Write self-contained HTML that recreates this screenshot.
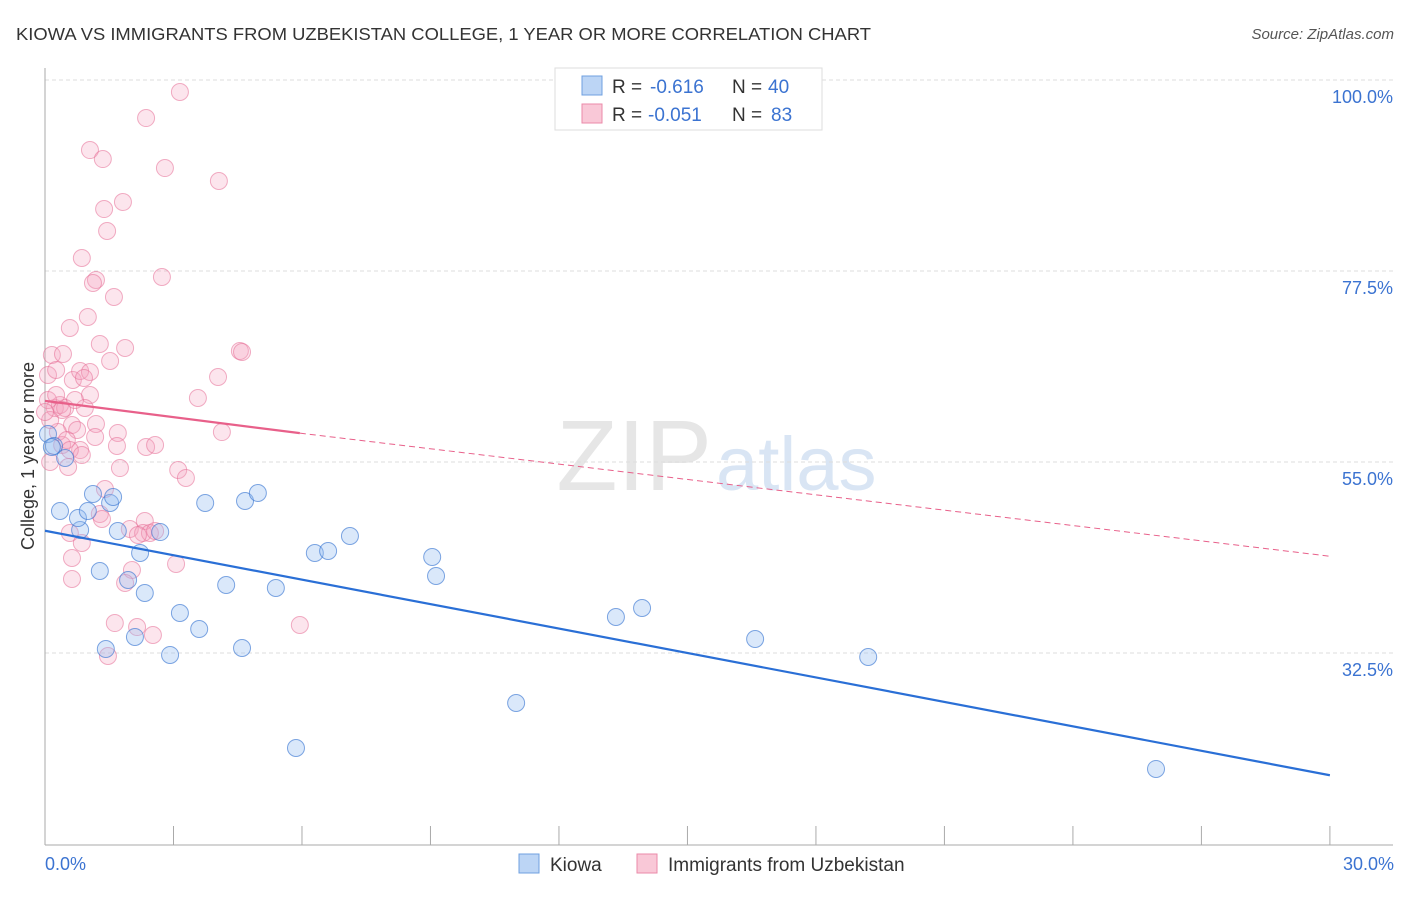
<!DOCTYPE html>
<html><head><meta charset="utf-8"><style>
body{margin:0;background:#fff;font-family:"Liberation Sans",sans-serif}
svg text{font-family:"Liberation Sans",sans-serif}
</style></head><body>
<svg id="c" width="1406" height="892" xmlns="http://www.w3.org/2000/svg">
<text x="16" y="40" font-size="17.5" fill="#333" textLength="855" lengthAdjust="spacingAndGlyphs">KIOWA VS IMMIGRANTS FROM UZBEKISTAN COLLEGE, 1 YEAR OR MORE CORRELATION CHART</text>
<text x="1394" y="39" font-size="15" fill="#555" font-style="italic" text-anchor="end">Source: ZipAtlas.com</text>
<text x="712" y="490" font-size="100" fill="#e6e6e6" text-anchor="end" font-family="Liberation Serif">ZIP</text>
<text x="716" y="490" font-size="76" fill="#d9e5f4">atlas</text>
<g id="grid"></g><g id="axes"></g><g id="pts"></g><g id="trend"></g>
<text transform="translate(34,456) rotate(-90)" font-size="18" fill="#333" text-anchor="middle">College, 1 year or more</text>
<text x="45" y="870" font-size="18" fill="#3b73d1">0.0%</text>
<text x="1394" y="870" font-size="18" fill="#3b73d1" text-anchor="end">30.0%</text>
<g>
<rect x="555" y="68" width="267" height="62" fill="#fff" stroke="#ddd"/>
<rect x="582" y="76" width="20" height="19" fill="#bcd5f5" stroke="#6fa0e0"/>
<rect x="582" y="104" width="20" height="19" fill="#f9c8d7" stroke="#eb8aa8"/>
<text x="612" y="93" font-size="19" fill="#333">R =</text>
<text x="650" y="93" font-size="19" fill="#3b73d1">-0.616</text>
<text x="732" y="93" font-size="19" fill="#333">N =</text>
<text x="768" y="93" font-size="19" fill="#3b73d1">40</text>
<text x="612" y="121" font-size="19" fill="#333">R =</text>
<text x="648" y="121" font-size="19" fill="#3b73d1">-0.051</text>
<text x="732" y="121" font-size="19" fill="#333">N =</text>
<text x="771" y="121" font-size="19" fill="#3b73d1">83</text>
</g>
<g>
<rect x="519" y="854" width="20" height="19" fill="#bcd5f5" stroke="#6fa0e0"/>
<text x="550" y="871" font-size="19" fill="#333">Kiowa</text>
<rect x="637" y="854" width="20" height="19" fill="#f9c8d7" stroke="#eb8aa8"/>
<text x="668" y="871" font-size="19" fill="#333">Immigrants from Uzbekistan</text>
</g>
</svg>
<script>
const yTicks=[100,77.5,55,32.5];
const yTickLabels=["100.0%","77.5%","55.0%","32.5%"];
const xTicks=[0,3,6,9,12,15,18,21,24,27,30];
const kiowaPx=[[48,434],[54,446],[60,511],[65,458],[80,530],[78,518],[88,511],[93,494],[100,571],[106,649],[110,503],[113,497],[118,531],[128,580],[135,637],[140,553],[145,593],[160,532],[170,655],[180,613],[199,629],[205,503],[226,585],[242,648],[245,501],[258,493],[276,588],[296,748],[315,553],[328,551],[350,536],[432,557],[436,576],[516,703],[616,617],[642,608],[755,639],[868,657],[1156,769],[52,447]];
const uzbPx=[[180,92],[146,118],[90,150],[103,159],[165,168],[219,181],[123,202],[104,209],[107,231],[82,258],[96,280],[93,283],[162,277],[114,297],[88,317],[70,328],[125,348],[100,344],[240,351],[242,352],[110,361],[52,355],[63,354],[48,375],[56,370],[73,380],[80,371],[90,372],[218,377],[90,395],[198,398],[55,408],[60,405],[65,408],[85,408],[72,425],[96,424],[118,433],[222,432],[77,430],[62,445],[80,450],[117,446],[146,447],[155,445],[120,468],[178,470],[186,478],[68,467],[105,489],[100,514],[102,519],[145,521],[70,533],[82,543],[130,529],[143,533],[150,533],[155,531],[138,535],[72,558],[72,579],[176,564],[132,570],[125,583],[115,623],[300,625],[137,627],[153,635],[108,656],[50,462],[58,432],[67,440],[75,400],[95,437],[48,400],[56,395],[62,410],[70,450],[50,420],[82,455],[45,412],[84,378]];
const kiowaX=kiowaPx.map(p=>+((p[0]-45)/42.83).toFixed(2));
const kiowaY=kiowaPx.map(p=>+(100-(p[1]-80)/8.489).toFixed(2));
const uzbX=uzbPx.map(p=>+((p[0]-45)/42.83).toFixed(2));
const uzbY=uzbPx.map(p=>+(100-(p[1]-80)/8.489).toFixed(2));
const kiowaTrend=[[0,46.9],[30,18.1]];
const uzbTrendSolid=[[0,62.2],[5.95,58.4]];
const uzbTrendDash=[[5.95,58.4],[30,43.9]];

const X=v=>45+v*42.83, Y=v=>80+(100-v)*8.489;
const NS="http://www.w3.org/2000/svg";
function mk(tag,attrs,parent){const e=document.createElementNS(NS,tag);for(const k in attrs)e.setAttribute(k,attrs[k]);document.getElementById(parent).appendChild(e);return e;}
yTicks.forEach((t,i)=>{
  const l=mk('line',{x1:45,x2:1393,y1:Y(t),y2:Y(t),stroke:'#ddd','stroke-dasharray':'4,3'},'grid');
  
  
  const tx=mk('text',{x:1393,y:Y(t)+23,'font-size':18,fill:'#3b73d1','text-anchor':'end'},'grid');
  tx.textContent=yTickLabels[i];
  
  
});
let a=mk('line',{x1:45,x2:45,y1:68,y2:845,stroke:'#aaa'},'axes');


a=mk('line',{x1:45,x2:1393,y1:845,y2:845,stroke:'#aaa'},'axes');


xTicks.forEach(t=>{
  const l=mk('line',{x1:X(t),x2:X(t),y1:826,y2:845,stroke:'#aaa'},'axes');
  
  
});
uzbX.forEach((x,i)=>{
  const c=mk('circle',{cx:X(x),cy:Y(uzbY[i]),r:8.5,fill:'rgba(245,160,190,0.28)',stroke:'rgba(230,110,150,0.55)','stroke-width':1},'pts');
  
  
});
kiowaX.forEach((x,i)=>{
  const c=mk('circle',{cx:X(x),cy:Y(kiowaY[i]),r:8.5,fill:'rgba(150,190,240,0.35)',stroke:'rgba(60,120,210,0.65)','stroke-width':1},'pts');
  
  
});
let t=mk('line',{x1:X(kiowaTrend[0][0]),y1:Y(kiowaTrend[0][1]),x2:X(kiowaTrend[1][0]),y2:Y(kiowaTrend[1][1]),stroke:'#2a6fd6','stroke-width':2.2},'trend');


t=mk('line',{x1:X(uzbTrendSolid[0][0]),y1:Y(uzbTrendSolid[0][1]),x2:X(uzbTrendSolid[1][0]),y2:Y(uzbTrendSolid[1][1]),stroke:'#e8608a','stroke-width':2.2},'trend');


t=mk('line',{x1:X(uzbTrendDash[0][0]),y1:Y(uzbTrendDash[0][1]),x2:X(uzbTrendDash[1][0]),y2:Y(uzbTrendDash[1][1]),stroke:'#e8608a','stroke-width':1,'stroke-dasharray':'6,4'},'trend');


</script>
</body></html>
